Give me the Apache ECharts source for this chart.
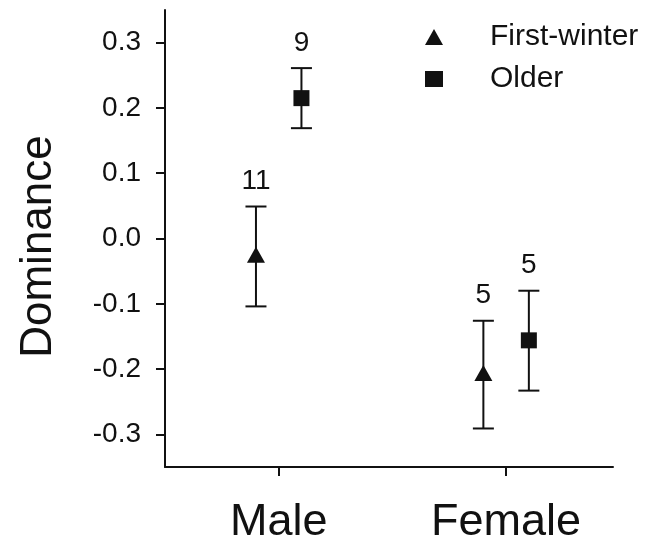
<!DOCTYPE html>
<html>
<head>
<meta charset="utf-8">
<script src="https://cdn.jsdelivr.net/npm/echarts@6/dist/echarts.min.js"></script>
<style>
    html, body { margin: 0; padding: 0; background: #fff; }
    #chart { width: 662px; height: 538px; }
</style>
</head>
<body>
<div id="chart"></div>
<script>
// data
const categories = ['Male', 'Female'];
const groupNames = ['First-winter', 'Older'];
const yTicks = [-0.3, -0.2, -0.1, 0.0, 0.1, 0.2, 0.3];

const fwMean = [-0.025, -0.206];
const fwLow = [-0.104, -0.291];
const fwHigh = [0.049, -0.126];
const fwN = [11, 5];

const oldMean = [0.215, -0.156];
const oldLow = [0.169, -0.233];
const oldHigh = [0.261, -0.080];
const oldN = [9, 5];

const dodge = 0.1;
const FONT = '"Liberation Sans", Arial, sans-serif';
const INK = '#111';

function pointRows(mean, shift) {
    return mean.map((m, i) => [i + 1 + shift, m]);
}
function errRows(low, high, n, shift) {
    return low.map((lo, i) => [i + 1 + shift, lo, high[i], n[i]]);
}

function renderErr(params, api) {
    const x = api.value(0);
    const lo = api.coord([x, api.value(1)]);
    const hi = api.coord([x, api.value(2)]);
    const hw = 10.5;
    const ls = { stroke: INK, lineWidth: 2 };
    return {
        type: 'group',
        children: [
            { type: 'line', shape: { x1: lo[0], y1: lo[1], x2: hi[0], y2: hi[1] }, style: ls },
            { type: 'line', shape: { x1: hi[0] - hw, y1: hi[1], x2: hi[0] + hw, y2: hi[1] }, style: ls },
            { type: 'line', shape: { x1: lo[0] - hw, y1: lo[1], x2: lo[0] + hw, y2: lo[1] }, style: ls },
            {
                type: 'text',
                style: {
                    text: String(api.value(3)),
                    x: hi[0], y: hi[1] - 11,
                    align: 'center', verticalAlign: 'bottom',
                    font: '28px ' + FONT, fill: INK
                }
            }
        ]
    };
}

let myChart = echarts.init(document.getElementById('chart'));

myChart.setOption({
    animation: false,
    legend: {
        orient: 'vertical',
        left: 425,
        top: 22,
        padding: 0,
        itemWidth: 18,
        itemHeight: 16,
        itemGap: 12,
        data: [
            { name: groupNames[0], icon: 'triangle' },
            { name: groupNames[1], icon: 'rect' }
        ],
        textStyle: {
            fontFamily: FONT,
            fontSize: 30,
            color: INK,
            padding: [0, 0, 0, 42]
        }
    },
    grid: {
        left: 165,
        right: 49,
        top: 10,
        bottom: 71,
        outerBoundsMode: 'none'
    },
    xAxis: {
        type: 'value',
        min: 0.5,
        max: 2.47,
        splitLine: { show: false },
        axisLine: { onZero: false, lineStyle: { color: INK, width: 2 } },
        axisTick: {
            show: true,
            length: 9,
            customValues: [1, 2],
            lineStyle: { color: INK, width: 2 }
        },
        axisLabel: {
            customValues: [1, 2],
            formatter: function (v) {
                return categories[Math.round(v) - 1];
            },
            margin: 33,
            fontFamily: FONT,
            fontSize: 45,
            color: INK
        }
    },
    yAxis: {
        type: 'value',
        min: -0.35,
        max: 0.35,
        name: 'Dominance',
        nameLocation: 'middle',
        nameRotate: 90,
        nameGap: 104,
        nameTextStyle: {
            fontFamily: FONT,
            fontSize: 44,
            color: INK,
            padding: [0, 16, 0, 0]
        },
        splitLine: { show: false },
        axisLine: { show: true, onZero: false, lineStyle: { color: INK, width: 2 } },
        axisTick: {
            show: true,
            length: 9,
            customValues: yTicks,
            lineStyle: { color: INK, width: 2 }
        },
        axisLabel: {
            customValues: yTicks,
            formatter: function (v) {
                return v.toFixed(1);
            },
            margin: 24,
            fontFamily: FONT,
            fontSize: 28,
            color: INK
        }
    },
    series: [
        {
            name: 'fw-err',
            type: 'custom',
            renderItem: renderErr,
            data: errRows(fwLow, fwHigh, fwN, -dodge),
            z: 2
        },
        {
            name: 'old-err',
            type: 'custom',
            renderItem: renderErr,
            data: errRows(oldLow, oldHigh, oldN, dodge),
            z: 2
        },
        {
            name: groupNames[0],
            type: 'scatter',
            symbol: 'triangle',
            symbolSize: [18, 16],
            itemStyle: { color: INK, opacity: 1 },
            data: pointRows(fwMean, -dodge),
            z: 5
        },
        {
            name: groupNames[1],
            type: 'scatter',
            symbol: 'rect',
            symbolSize: [16, 16],
            itemStyle: { color: INK, opacity: 1 },
            data: pointRows(oldMean, dodge),
            z: 5
        }
    ]
});

window.addEventListener('resize', function () {
    myChart.resize();
});
</script>
</body>
</html>
